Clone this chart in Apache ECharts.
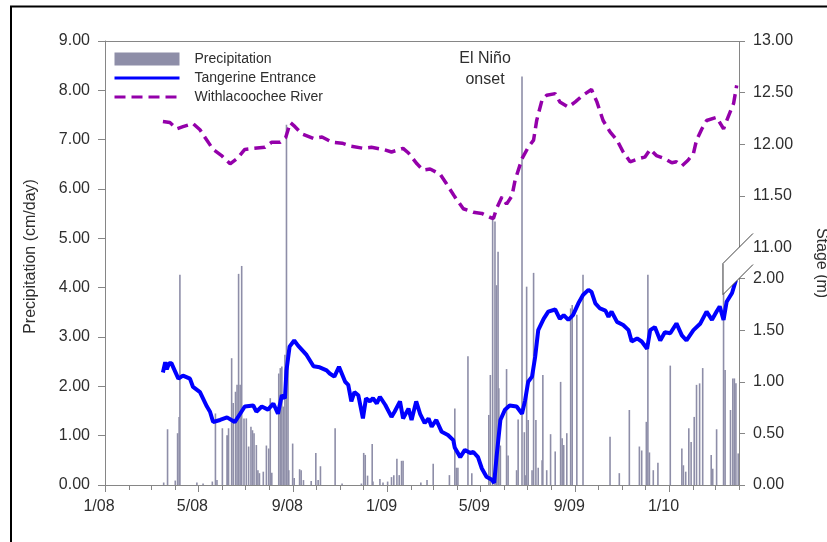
<!DOCTYPE html>
<html>
<head>
<meta charset="utf-8">
<style>
  html, body { margin: 0; padding: 0; background: #fff; }
  #chart { width: 827px; height: 542px; }
</style>
<script src="https://cdn.jsdelivr.net/npm/echarts@6/dist/echarts.min.js"></script>
</head>
<body>
<div id="chart"></div>
<script>
// Daily precipitation (cm/day)
const rainDates = [
  '2008-03-17','2008-03-22','2008-04-01','2008-04-04','2008-04-06','2008-04-07','2008-04-29','2008-05-07',
  '2008-05-19','2008-05-23','2008-05-25','2008-06-01','2008-06-07','2008-06-08','2008-06-09','2008-06-13',
  '2008-06-15','2008-06-18','2008-06-20','2008-06-22','2008-06-24','2008-06-26','2008-06-29','2008-07-02',
  '2008-07-05','2008-07-08','2008-07-10','2008-07-12','2008-07-15','2008-07-17','2008-07-19','2008-07-24',
  '2008-07-28','2008-07-31','2008-08-02','2008-08-04','2008-08-13','2008-08-15','2008-08-17','2008-08-19',
  '2008-08-21','2008-08-23','2008-08-25','2008-08-26','2008-08-31','2008-09-02','2008-09-09','2008-09-11',
  '2008-09-14','2008-09-24','2008-09-30','2008-10-03','2008-10-06','2008-10-25','2008-11-03','2008-11-28',
  '2008-12-01','2008-12-03','2008-12-06','2008-12-12','2008-12-13','2008-12-22','2008-12-26','2009-01-01',
  '2009-01-06','2009-01-09','2009-01-13','2009-01-16','2009-01-19','2009-01-21','2009-02-13','2009-02-21',
  '2009-03-01','2009-03-22','2009-03-29','2009-03-31','2009-04-02','2009-04-15','2009-04-20','2009-05-12',
  '2009-05-14','2009-05-17','2009-05-20','2009-05-22','2009-05-24','2009-05-25','2009-05-27','2009-06-04',
  '2009-06-06','2009-06-17','2009-06-19','2009-06-24','2009-06-27','2009-06-29','2009-06-30','2009-07-02',
  '2009-07-07','2009-07-09','2009-07-12','2009-07-15','2009-07-20','2009-07-21','2009-07-26','2009-07-31',
  '2009-08-06','2009-08-13','2009-08-15','2009-08-17','2009-08-21','2009-08-26','2009-08-28','2009-09-03',
  '2009-09-11','2009-10-16','2009-10-28','2009-11-10','2009-11-23','2009-11-26','2009-12-02','2009-12-04',
  '2009-12-06','2009-12-11','2009-12-17','2010-01-02','2010-01-17','2010-01-19','2010-01-22','2010-01-26',
  '2010-01-29','2010-02-02','2010-02-05','2010-02-09','2010-02-13','2010-02-24','2010-02-26','2010-03-03',
  '2010-03-12','2010-03-14','2010-03-21','2010-03-24','2010-03-26','2010-03-28','2010-03-31'
];
const rainCm = [
  0.05, 1.13, 0.09, 1.05, 1.38, 4.26, 0.05, 0.03,
  0.07, 1.45, 0.10, 1.15, 1.01, 1.00, 1.15, 2.57,
  1.66, 1.89, 2.03, 4.28, 2.03, 4.44, 1.35, 1.35,
  0.78, 1.18, 1.11, 1.05, 0.81, 0.30, 0.24, 0.27,
  0.80, 0.74, 1.76, 0.25, 2.26, 2.37, 2.40, 1.59,
  2.64, 7.30, 2.40, 0.30, 0.84, 0.14, 0.32, 0.30,
  0.10, 0.08, 0.65, 0.10, 0.38, 1.15, 0.03, 0.03,
  0.65, 0.61, 0.19, 0.83, 0.07, 0.12, 0.05, 0.07,
  0.16, 0.20, 0.53, 0.20, 0.49, 0.49, 0.05, 0.10,
  0.43, 0.20, 1.55, 0.35, 0.35, 2.61, 0.24, 1.42,
  2.23, 5.44, 5.34, 4.05, 4.73, 1.96, 0.80, 2.35,
  0.60, 0.30, 1.33, 8.28, 1.07, 0.20, 4.02, 1.32,
  0.30, 4.30, 1.32, 0.35, 0.50, 2.23, 0.30, 1.03,
  0.68, 2.09, 0.95, 0.81, 1.05, 3.58, 3.65, 3.45,
  4.26, 0.98, 0.24, 1.52, 0.78, 0.70, 1.28, 4.26,
  0.66, 0.30, 0.45, 2.42, 0.74, 0.40, 0.27, 1.15,
  0.87, 1.38, 2.03, 2.06, 2.37, 0.61, 0.33, 1.13,
  4.49, 2.33, 1.52, 2.16, 2.16, 2.06, 0.64
];

// Tangerine Entrance stage (m)
const tangerineDates = [
  '2008-03-16','2008-03-19','2008-03-21','2008-03-24','2008-03-27','2008-03-30','2008-04-05','2008-04-11',
  '2008-04-20','2008-04-24','2008-05-03','2008-05-12','2008-05-16','2008-05-20','2008-05-29','2008-06-07',
  '2008-06-17','2008-06-24','2008-06-30','2008-07-11','2008-07-15','2008-07-22','2008-07-30','2008-08-06',
  '2008-08-12','2008-08-17','2008-08-21','2008-08-23','2008-08-27','2008-09-02','2008-09-07','2008-09-18',
  '2008-09-27','2008-10-05','2008-10-14','2008-10-18','2008-10-24','2008-10-30','2008-11-07','2008-11-11',
  '2008-11-15','2008-11-19','2008-11-24','2008-11-30','2008-12-04','2008-12-09','2008-12-13','2008-12-18',
  '2008-12-22','2008-12-29','2009-01-06','2009-01-10','2009-01-17','2009-01-21','2009-01-28','2009-02-01',
  '2009-02-07','2009-02-12','2009-02-18','2009-02-23','2009-02-27','2009-03-05','2009-03-12','2009-03-20',
  '2009-03-27','2009-03-29','2009-04-05','2009-04-11','2009-04-18','2009-04-22','2009-04-28','2009-05-03',
  '2009-05-09','2009-05-16','2009-05-19','2009-05-22','2009-05-27','2009-06-02','2009-06-08','2009-06-17',
  '2009-06-24','2009-06-28','2009-07-02','2009-07-07','2009-07-11','2009-07-15','2009-07-22','2009-07-28',
  '2009-08-06','2009-08-12','2009-08-17','2009-08-23','2009-08-29','2009-09-05','2009-09-11','2009-09-18',
  '2009-09-22','2009-09-27','2009-10-03','2009-10-10','2009-10-14','2009-10-18','2009-10-25','2009-11-02',
  '2009-11-09','2009-11-13','2009-11-20','2009-11-26','2009-12-03','2009-12-07','2009-12-13','2009-12-20',
  '2009-12-26','2010-01-02','2010-01-10','2010-01-17','2010-01-23','2010-02-01','2010-02-10','2010-02-18',
  '2010-02-25','2010-03-03','2010-03-07','2010-03-12','2010-03-16','2010-03-23','2010-03-28'
];
const tangerineStage = [
  1.09, 1.19, 1.12, 1.18, 1.18, 1.13, 1.03, 1.06,
  1.03, 0.95, 0.90, 0.76, 0.71, 0.61, 0.63, 0.655,
  0.61, 0.69, 0.76, 0.77, 0.71, 0.76, 0.73, 0.79,
  0.69, 0.87, 0.84, 1.11, 1.34, 1.40, 1.35, 1.26,
  1.15, 1.14, 1.11, 1.08, 1.05, 1.145, 1.00, 0.97,
  0.81, 0.90, 0.87, 0.645, 0.84, 0.81, 0.84, 0.79,
  0.855, 0.775, 0.66, 0.71, 0.81, 0.645, 0.74, 0.63,
  0.81, 0.69, 0.60, 0.645, 0.565, 0.63, 0.515, 0.485,
  0.435, 0.36, 0.27, 0.34, 0.31, 0.32, 0.27, 0.16,
  0.08, 0.05, 0.02, 0.27, 0.63, 0.73, 0.77, 0.76,
  0.69, 0.82, 1.00, 1.05, 1.24, 1.50, 1.61, 1.68,
  1.70, 1.61, 1.645, 1.60, 1.645, 1.76, 1.84, 1.89,
  1.87, 1.76, 1.71, 1.69, 1.63, 1.68, 1.58, 1.55,
  1.50, 1.39, 1.42, 1.39, 1.32, 1.50, 1.53, 1.40,
  1.48, 1.47, 1.565, 1.45, 1.40, 1.50, 1.565, 1.68,
  1.60, 1.68, 1.73, 1.60, 1.775, 1.86, 1.985
];

// Withlacoochee River stage (m)
const riverDates = [
  '2008-03-16','2008-03-25','2008-04-03','2008-04-11','2008-04-24','2008-05-03','2008-05-10','2008-05-20',
  '2008-05-31','2008-06-11','2008-06-20','2008-06-30','2008-07-11','2008-07-26','2008-08-04','2008-08-15',
  '2008-08-22','2008-08-28','2008-09-03','2008-09-12','2008-09-27','2008-10-08','2008-10-21','2008-11-03',
  '2008-11-15','2008-12-01','2008-12-11','2008-12-26','2009-01-06','2009-01-21','2009-01-28','2009-02-08',
  '2009-02-16','2009-02-25','2009-03-10','2009-03-18','2009-03-29','2009-04-09','2009-04-22','2009-05-03',
  '2009-05-14','2009-05-18','2009-05-22','2009-05-29','2009-06-04','2009-06-11','2009-06-15','2009-06-24',
  '2009-07-02','2009-07-09','2009-07-13','2009-07-20','2009-07-26','2009-08-06','2009-08-12','2009-08-23',
  '2009-09-01','2009-09-11','2009-09-22','2009-09-29','2009-10-07','2009-10-16','2009-10-25','2009-11-02',
  '2009-11-11','2009-11-22','2009-11-30','2009-12-07','2009-12-15','2009-12-26','2010-01-04','2010-01-10',
  '2010-01-17','2010-01-25','2010-02-01','2010-02-05','2010-02-12','2010-02-18','2010-03-03','2010-03-12',
  '2010-03-18','2010-03-25','2010-03-29'
];
const riverStage = [
  12.22, 12.21, 12.15, 12.17, 12.20, 12.14, 12.06, 11.95,
  11.89, 11.81, 11.86, 11.95, 11.96, 11.97, 12.02, 12.02,
  12.065, 12.21, 12.17, 12.10, 12.055, 12.07, 12.02, 12.01,
  11.98, 11.96, 11.97, 11.95, 11.925, 11.96, 11.915, 11.81,
  11.75, 11.76, 11.71, 11.62, 11.49, 11.375, 11.34, 11.33,
  11.29, 11.28, 11.375, 11.49, 11.42, 11.50, 11.65, 11.86,
  11.97, 12.04, 12.23, 12.43, 12.475, 12.49, 12.41, 12.36,
  12.41, 12.475, 12.53, 12.41, 12.23, 12.12, 12.04, 11.925,
  11.83, 11.86, 11.875, 11.95, 11.89, 11.86, 11.82, 11.83,
  11.79, 11.845, 11.91, 12.04, 12.15, 12.23, 12.26, 12.15,
  12.265, 12.395, 12.57
];

// Left and right axis ranges / ticks
const rainTicks = { min: 0, max: 9, interval: 1 };
const stageTicks = { min: 0, max: 13, interval: 0.5, breakStart: 2, breakEnd: 11 };
const labelMonths = ['01', '05', '09'];

// One category per day, 1 Jan 2008 .. 1 Apr 2010
const days = [];
for (let t = Date.UTC(2008, 0, 1); t <= Date.UTC(2010, 3, 1); t += 86400000) {
  days.push(new Date(t).toISOString().slice(0, 10));
}
const zip = (xs, ys) => xs.map((x, i) => [x, ys[i]]);

const FONT = "'Liberation Sans', Arial, sans-serif";
const AXIS_GRAY = '#868686';
const TEXT = '#2e2e2e';
const BLUE = '#0000ff';
const PURPLE = '#9400aa';
const isMonthStart = (i, v) => v.slice(8) === '01';
const isLabelMonth = (i, v) => v.slice(8) === '01' && labelMonths.includes(v.slice(5, 7));

const chart = echarts.init(document.getElementById('chart'));

const option = {
  animation: false,
  backgroundColor: '#ffffff',
  textStyle: { fontFamily: FONT },
  grid: { left: 105, right: 88, top: 41, bottom: 57, outerBoundsMode: 'none' },
  legend: {
    orient: 'vertical',
    left: 113,
    top: 52,
    padding: 0,
    itemWidth: 65,
    itemHeight: 13,
    itemGap: 5,
    lineStyle: { width: 3 },
    textStyle: { fontFamily: FONT, fontSize: 14, color: TEXT, padding: [0, 0, 0, 10] },
    data: [
      { name: 'Precipitation', icon: 'rect' },
      { name: 'Tangerine Entrance', itemStyle: { opacity: 0 } },
      { name: 'Withlacoochee River', itemStyle: { opacity: 0 } }
    ]
  },
  xAxis: [
    {
      type: 'category',
      data: days,
      boundaryGap: false,
      axisLine: { show: true, onZero: false, lineStyle: { color: AXIS_GRAY, width: 1 } },
      axisTick: { show: true, interval: isMonthStart, length: 5, lineStyle: { color: AXIS_GRAY } },
      axisLabel: {
        interval: isLabelMonth,
        formatter: v => (+v.slice(5, 7)) + '/' + v.slice(2, 4),
        fontFamily: FONT, fontSize: 16, color: TEXT, margin: 14,
        padding: [0, 12, 0, 0]
      },
      splitLine: { show: false }
    },
    {
      // top edge of the plot frame
      type: 'category',
      data: days,
      boundaryGap: false,
      position: 'top',
      axisLine: { show: true, onZero: false, lineStyle: { color: AXIS_GRAY, width: 1 } },
      axisTick: { show: false },
      axisLabel: { show: false },
      splitLine: { show: false }
    },
    {
      // longer ticks at the labelled months
      type: 'category',
      data: days,
      boundaryGap: false,
      position: 'bottom',
      axisLine: { show: false, onZero: false },
      axisTick: { show: true, interval: isLabelMonth, length: 7, lineStyle: { color: AXIS_GRAY } },
      axisLabel: { show: false },
      splitLine: { show: false }
    }
  ],
  yAxis: [
    {
      type: 'value',
      position: 'left',
      min: rainTicks.min,
      max: rainTicks.max,
      interval: rainTicks.interval,
      name: 'Precipitation (cm/day)',
      nameLocation: 'middle',
      nameRotate: 90,
      nameGap: 66,
      nameTextStyle: { fontFamily: FONT, fontSize: 16, color: TEXT, padding: [0, 0, 0, 13] },
      axisLine: { show: true, lineStyle: { color: AXIS_GRAY, width: 1 } },
      axisTick: { show: true, length: 7, lineStyle: { color: AXIS_GRAY } },
      axisLabel: { formatter: v => v.toFixed(2), fontFamily: FONT, fontSize: 16, color: TEXT, margin: 15 },
      splitLine: { show: false }
    },
    {
      type: 'value',
      position: 'right',
      min: stageTicks.min,
      max: stageTicks.max,
      interval: stageTicks.interval,
      breaks: [{ start: stageTicks.breakStart, end: stageTicks.breakEnd, gap: '7%' }],
      breakArea: { show: false },
      name: 'Stage (m)',
      nameLocation: 'middle',
      nameRotate: -90,
      nameGap: 74,
      nameTextStyle: { fontFamily: FONT, fontSize: 16, color: TEXT },
      axisLine: { show: true, lineStyle: { color: AXIS_GRAY, width: 1 } },
      axisTick: { show: true, length: 6, lineStyle: { color: AXIS_GRAY } },
      axisLabel: { formatter: v => v.toFixed(2), fontFamily: FONT, fontSize: 16, color: TEXT, margin: 14 },
      splitLine: { show: false }
    }
  ],
  series: [
    {
      name: 'Precipitation',
      type: 'bar',
      xAxisIndex: 0,
      yAxisIndex: 0,
      barWidth: 1.6,
      itemStyle: { color: '#8e8ea8' },
      data: zip(rainDates, rainCm),
      z: 1
    },
    {
      name: 'Tangerine Entrance',
      type: 'line',
      xAxisIndex: 0,
      yAxisIndex: 1,
      symbol: 'none',
      showSymbol: false,
      lineStyle: { color: BLUE, width: 4 },
      itemStyle: { color: BLUE },
      data: zip(tangerineDates, tangerineStage),
      z: 3
    },
    {
      name: 'Withlacoochee River',
      type: 'line',
      xAxisIndex: 0,
      yAxisIndex: 1,
      symbol: 'none',
      showSymbol: false,
      lineStyle: { color: PURPLE, width: 3.5, type: [11, 6] },
      itemStyle: { color: PURPLE },
      data: zip(riverDates, riverStage),
      z: 3
    }
  ]
};

chart.setOption(option);

// Frame, annotation and the break marks on the right axis (placed from the axis scales)
const xRight = chart.convertToPixel({ xAxisIndex: 0 }, days[days.length - 1]);
const yUpper = chart.convertToPixel({ yAxisIndex: 1 }, stageTicks.breakEnd);
const yLower = chart.convertToPixel({ yAxisIndex: 1 }, stageTicks.breakStart);
const markStyle = { stroke: '#404040', lineWidth: 1, fill: null };
chart.setOption({
  graphic: [
    {
      type: 'polyline', silent: true, z: 100,
      shape: { points: [[11, 560], [11, 6.5], [860, 6.5]] },
      style: { stroke: '#000', lineWidth: 2, fill: null }
    },
    {
      type: 'text', silent: true, z: 100,
      x: 485, y: 48,
      style: {
        text: 'El Niño\nonset',
        fontFamily: FONT, fontSize: 16, fill: TEXT,
        align: 'center', verticalAlign: 'top', lineHeight: 21
      }
    },
    {
      type: 'polygon', z: 90, silent: true,
      shape: { points: [[xRight - 16, yUpper + 16], [xRight + 14, yUpper - 14], [xRight + 14, yLower - 14], [xRight - 16, yLower + 16]] },
      style: { fill: '#ffffff', stroke: null }
    },
    { type: 'polyline', z: 100, silent: true, shape: { points: [[xRight - 16, yUpper + 16], [xRight + 14, yUpper - 14]] }, style: markStyle },
    { type: 'polyline', z: 100, silent: true, shape: { points: [[xRight - 16, yLower + 16], [xRight + 14, yLower - 14]] }, style: markStyle },
    { type: 'polyline', z: 100, silent: true, shape: { points: [[xRight - 16, yUpper + 16], [xRight - 16, yLower + 16]] }, style: markStyle }
  ]
});
</script>
</body>
</html>
